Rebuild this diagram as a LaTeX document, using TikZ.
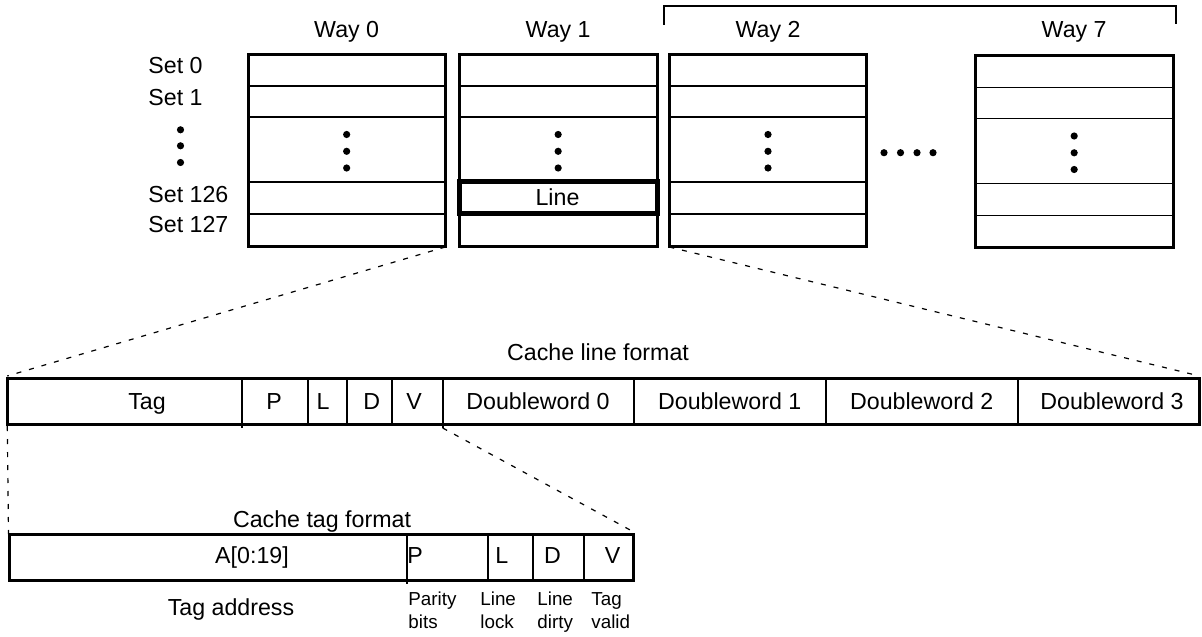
\documentclass[tikz,border=0pt]{standalone}
\usepackage{fontspec}
\setmainfont{Liberation Sans}
\begin{document}
\begin{tikzpicture}[x=0.5pt,y=-0.5pt,
  lbl/.style={font=\fontsize{11.6}{14}\selectfont, inner sep=0, anchor=base},
  lblw/.style={font=\fontsize{11.6}{14}\selectfont, inner sep=0, anchor=base west},
  small/.style={font=\fontsize{9.4}{11}\selectfont, inner sep=0, anchor=base west},
  outer/.style={draw, line width=1.5pt},
  rowline/.style={line width=0.85pt},
  divider/.style={line width=1pt},
  thickbox/.style={draw, line width=2.5pt},
  dashlink/.style={line width=0.6pt, dash pattern=on 2.5pt off 4pt},
  bracketline/.style={line width=1pt}
]
\useasboundingbox (0,0) rectangle (1202,636);

% ---- Ways ----
\foreach \n/\l/\r/\d in {0/248/445.3/0, 1/459.3/657/0, 2/669.3/866.7/0, 7/975.3/1173/1.5}{
  \draw[outer] (\l,54.2+\d) rectangle (\r,246+\d);
  \foreach \yy in {86,117,182,214} \draw[rowline] (\l,\yy+\d) -- (\r,\yy+\d);
  \node[lbl] (way\n) at ({(\l+\r)/2},37.3) {Way \n};
  \foreach \yy in {134.5,151.3,168} \fill ({(\l+\r)/2},\yy+\d) circle (1.8pt);
}

% bracket over ways 2..7
\draw[bracketline] (664,25) -- (664,5.7) -- (1175.7,5.7) -- (1175.7,24);

% highlighted line
\draw[thickbox] (459,181.5) rectangle (657,213.5);
\node[lbl] (line) at (557.5,205.7) {Line};

% set labels
\node[lblw] (set0) at (148,74) {Set 0};
\node[lblw] (set1) at (148,105.8) {Set 1};
\node[lblw] (set126) at (148,203) {Set 126};
\node[lblw] (set127) at (148,232.6) {Set 127};
\foreach \yy in {129.8,145.8,162.5} \fill (180.5,\yy) circle (1.8pt);

% horizontal dots
\foreach \xx in {884,900.5,917,933} \fill (\xx,152.7) circle (1.8pt);

% ---- Cache line format ----
\node[lbl] (clf) at (598,360) {Cache line format};
\draw[outer] (7.3,378) rectangle (1199.5,424.7);
\draw[divider] (242.3,378) -- (242.3,428);
\draw[divider] (308.3,378) -- (308.3,424.7);
\draw[divider] (347.3,378) -- (347.3,424.7);
\draw[divider] (392.3,378) -- (392.3,424.7);
\draw[divider] (442.7,378) -- (442.7,428);
\draw[divider] (633.8,378) -- (633.8,424.7);
\draw[divider] (825.7,378) -- (825.7,424.7);
\draw[divider] (1017.7,378) -- (1017.7,424.7);
\node[lbl] (tag) at (147,409.5) {Tag};
\node[lbl] (cp) at (274,409.5) {P};
\node[lbl] (cl) at (323,409.5) {L};
\node[lbl] (cd) at (371.7,409.5) {D};
\node[lbl] (cv) at (414,409.5) {V};
\node[lbl] (dw0) at (538,409.5) {Doubleword 0};
\node[lbl] (dw1) at (729.7,409.5) {Doubleword 1};
\node[lbl] (dw2) at (921.7,409.5) {Doubleword 2};
\node[lbl] (dw3) at (1112,409.5) {Doubleword 3};

% ---- Cache tag format ----
\node[lbl] (ctf) at (322,527) {Cache tag format};
\draw[outer] (9,534.5) rectangle (633,580.8);
\draw[divider] (406.7,534.5) -- (406.7,584);
\draw[divider] (487.7,534.5) -- (487.7,580.8);
\draw[divider] (532.7,534.5) -- (532.7,580.8);
\draw[divider] (584,534.5) -- (584,580.8);
\node[lbl] (addr) at (252,563) {A[0:19]};
\node[lbl] (tp) at (415,563) {P};
\node[lbl] (tl) at (501.7,563) {L};
\node[lbl] (td) at (552.5,563) {D};
\node[lbl] (tv) at (612.5,563) {V};
\node[lbl] (tagaddr) at (231,615) {Tag address};
\node[small] (par1) at (408,605) {Parity};
\node[small] (par2) at (408,628) {bits};
\node[small] (lk1) at (480,605) {Line};
\node[small] (lk2) at (480,628) {lock};
\node[small] (dt1) at (537,605) {Line};
\node[small] (dt2) at (537,628) {dirty};
\node[small] (vl1) at (591,605) {Tag};
\node[small] (vl2) at (591,628) {valid};

% ---- dashed connectors ----
\coordinate (w0br) at (445.3,247);
\coordinate (w2bl) at (669.3,247);
\coordinate (clTL) at (7.3,376);
\coordinate (clTR) at (1199.5,376);
\coordinate (clBL) at (7.3,426);
\coordinate (clV) at (442.7,428);
\coordinate (ctTL) at (8.5,534);
\coordinate (ctTR) at (632,531);
\draw[dashlink] (w0br) -- (clTL);
\draw[dashlink] (w2bl) -- (clTR);
\draw[dashlink] (clBL) -- (ctTL);
\draw[dashlink] (clV) -- (ctTR);
\end{tikzpicture}
\end{document}
